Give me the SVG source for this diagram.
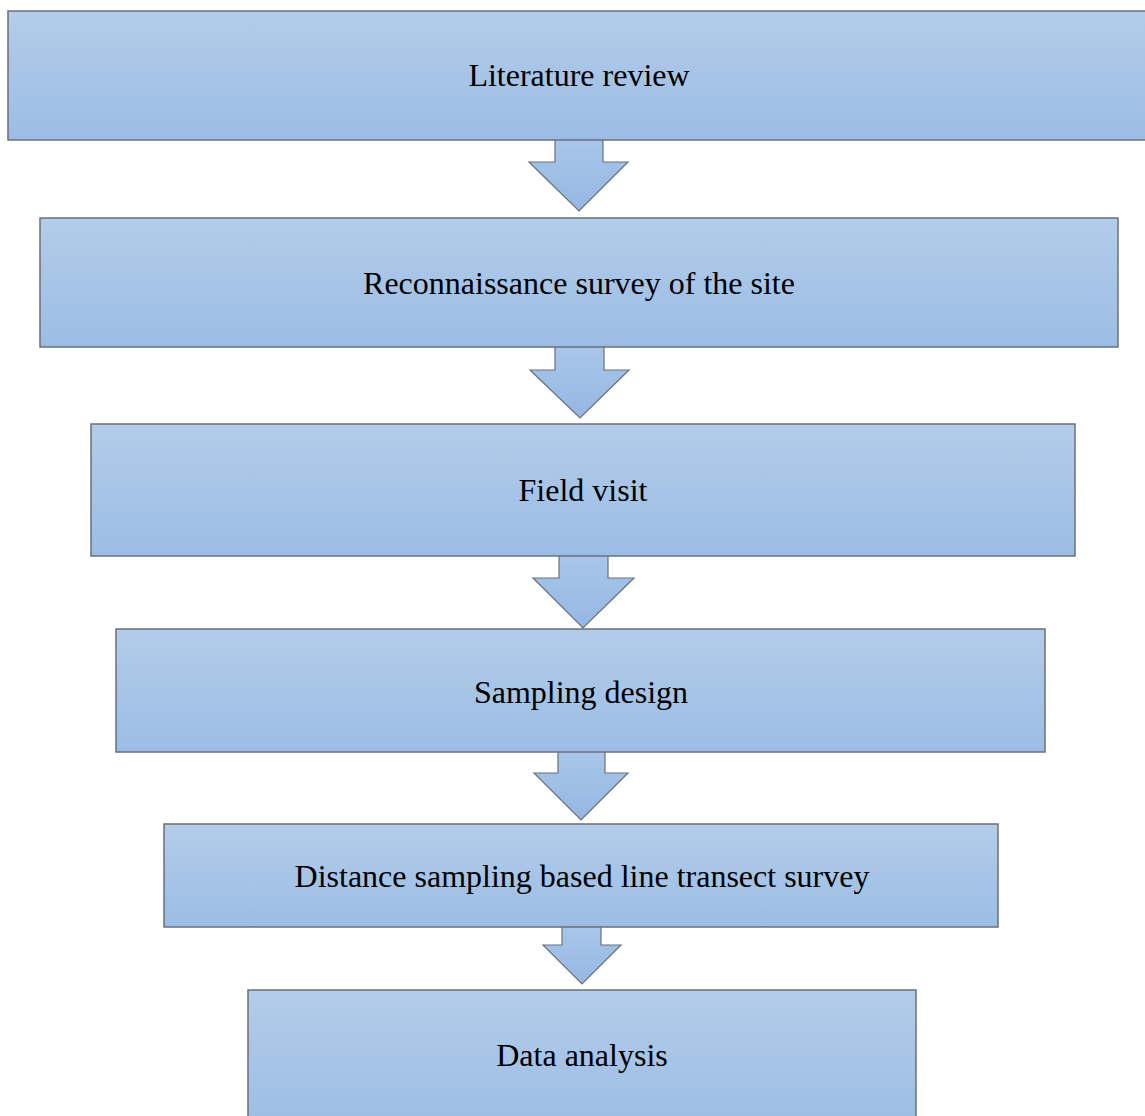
<svg xmlns="http://www.w3.org/2000/svg" width="1145" height="1116" viewBox="0 0 1145 1116">
<defs>
<linearGradient id="g" x1="0" y1="0" x2="0" y2="1">
<stop offset="0" stop-color="#b3cce9"/>
<stop offset="1" stop-color="#9bbde5"/>
</linearGradient>
<linearGradient id="ga" x1="0" y1="0" x2="0" y2="1">
<stop offset="0" stop-color="#a9c6ea"/>
<stop offset="1" stop-color="#94b7e2"/>
</linearGradient>
<style>
.box{fill:url(#g);stroke:#6a7078;stroke-width:1.5}
.arr{fill:url(#ga);stroke:#6a7078;stroke-width:1.2;stroke-linejoin:miter}
.t{font-family:"Liberation Serif","Times New Roman",serif;font-size:32px;fill:#000;text-anchor:middle}
</style>
</defs>
<rect width="1145" height="1116" fill="#fff"/>
<g id="connectors">
<path class="arr" d="M555,140 V162 H529 L579,211 L628,162 H603 V140"/>
<path class="arr" d="M555,347 V370 H530 L580,418 L629,370 H604 V347"/>
<path class="arr" d="M559,556 V578 H533 L583,628 L634,578 H608 V556"/>
<path class="arr" d="M558,752 V773 H534 L581,820 L628,773 H605 V752"/>
<path class="arr" d="M562,927 V945 H543 L582,984 L621,945 H601 V927"/>
</g>
<g id="n1"><rect class="box" x="8" y="11" width="1145" height="129"/><text class="t" x="579" y="86">Literature review</text></g>
<g id="n2"><rect class="box" x="40" y="218" width="1078" height="129"/><text class="t" x="579" y="294">Reconnaissance survey of the site</text></g>
<g id="n3"><rect class="box" x="91" y="424" width="984" height="132"/><text class="t" x="583" y="501">Field visit</text></g>
<g id="n4"><rect class="box" x="116" y="629" width="929" height="123"/><text class="t" x="581" y="703">Sampling design</text></g>
<g id="n5"><rect class="box" x="164" y="824" width="834" height="103"/><text class="t" x="582" y="887">Distance sampling based line transect survey</text></g>
<g id="n6"><rect class="box" x="248" y="990" width="668" height="140"/><text class="t" x="582" y="1066">Data analysis</text></g>
</svg>
